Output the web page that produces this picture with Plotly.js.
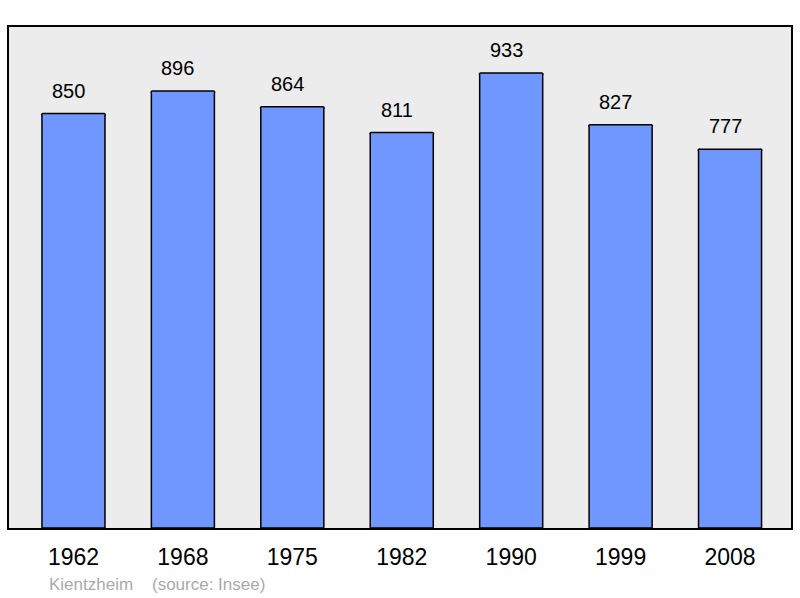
<!DOCTYPE html>
<html>
<head>
<meta charset="utf-8">
<script src="https://cdn.plot.ly/plotly-3.0.1.min.js"></script>
<style>html,body{margin:0;padding:0;background:#fff;}#chart{width:800px;height:598px;}</style>
</head>
<body>
<div id="chart"></div>
<script>
const years = ["1962", "1968", "1975", "1982", "1990", "1999", "2008"];
const population = [850, 896, 864, 811, 933, 827, 777];
const commune = "Kientzheim";
const sourceNote = "(source: Insee)";

const font = "Liberation Sans, Arial, sans-serif";

const bars = {
  type: "bar",
  x: years,
  y: population,
  width: 0.576,
  marker: {color: "#7096ff", line: {color: "#000", width: 1.5}, cornerradius: 2},
  hoverinfo: "skip"
};

const annotations = [];
for (let i = 0; i < years.length; i++) {
  annotations.push({
    x: i, y: population[i], xref: "x", yref: "y",
    text: String(population[i]), showarrow: false,
    xanchor: "center", yanchor: "bottom", yshift: 10, xshift: -5,
    font: {family: font, size: 20, color: "#000000"}
  });
}
annotations.push({
  xref: "paper", yref: "paper", x: 38/782, y: -0.090,
  xanchor: "left", yanchor: "top", showarrow: false,
  text: commune + "&nbsp;&nbsp;&nbsp;&nbsp;" + sourceNote,
  font: {family: font, size: 17, color: "#aaaaaa"}
});

const layout = {
  width: 800, height: 598,
  margin: {l: 9, r: 9, t: 27, b: 70, pad: 0},
  paper_bgcolor: "#fff",
  plot_bgcolor: "#ececec",
  showlegend: false,
  bargap: 0,
  xaxis: {
    type: "category", range: [-0.589, 6.557],
    showgrid: false, zeroline: false, ticks: "",
    showline: true, mirror: true, linecolor: "#000", linewidth: 2,
    tickfont: {family: font, size: 23, color: "#000"},
    ticklabelstandoff: 7, fixedrange: true
  },
  yaxis: {
    range: [0, 1027.5], showgrid: false, zeroline: false,
    showticklabels: false, ticks: "",
    showline: true, mirror: true, linecolor: "#000", linewidth: 2,
    fixedrange: true
  },
  annotations: annotations
};

Plotly.newPlot("chart", [bars], layout, {displayModeBar: false, staticPlot: true});
</script>
</body>
</html>
